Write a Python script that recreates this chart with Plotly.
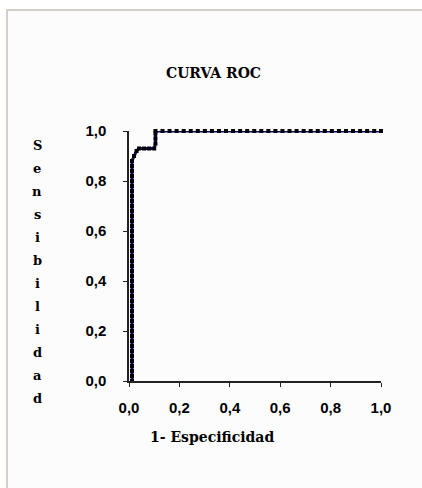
import plotly.graph_objects as go

# ---- data ----
fpr = [0.012]*45 + [0.02, 0.03, 0.04, 0.06, 0.08, 0.10,
       0.105, 0.105, 0.105, 0.105,
       0.133, 0.161, 0.189, 0.217, 0.245, 0.273, 0.301, 0.329, 0.357, 0.385,
       0.413, 0.441, 0.469, 0.497, 0.525, 0.553, 0.581, 0.609, 0.637, 0.665,
       0.693, 0.721, 0.749, 0.777, 0.805, 0.833, 0.861, 0.889, 0.917, 0.945,
       0.973, 1.000]
tpr = [0.00, 0.02, 0.04, 0.06, 0.08, 0.10, 0.12, 0.14, 0.16, 0.18,
       0.20, 0.22, 0.24, 0.26, 0.28, 0.30, 0.32, 0.34, 0.36, 0.38,
       0.40, 0.42, 0.44, 0.46, 0.48, 0.50, 0.52, 0.54, 0.56, 0.58,
       0.60, 0.62, 0.64, 0.66, 0.68, 0.70, 0.72, 0.74, 0.76, 0.78,
       0.80, 0.82, 0.84, 0.86, 0.88,
       0.90, 0.92, 0.93, 0.93, 0.93, 0.93,
       0.95, 0.97, 0.99, 1.00,
       1.0, 1.0, 1.0, 1.0, 1.0, 1.0, 1.0, 1.0, 1.0, 1.0,
       1.0, 1.0, 1.0, 1.0, 1.0, 1.0, 1.0, 1.0, 1.0, 1.0,
       1.0, 1.0, 1.0, 1.0, 1.0, 1.0, 1.0, 1.0, 1.0, 1.0,
       1.0, 1.0]
tick_vals = [0.0, 0.2, 0.4, 0.6, 0.8, 1.0]
tick_text = ["0,0", "0,2", "0,4", "0,6", "0,8", "1,0"]
title_text = "CURVA ROC"
x_title = "1- Especificidad"
y_title = "Sensibilidad"

W, H = 422, 488
L, R, T, B = 129, 41, 131, 107
PW, PH = W - L - R, H - T - B

def px(x):
    return (x - L) / PW

def py(y):
    return (H - B - y) / PH

fig = go.Figure()
fig.add_trace(go.Scatter(
    x=fpr, y=tpr, mode="lines+markers",
    line=dict(color="#0c0c6e", width=3),
    marker=dict(symbol="square", size=4, color="black"),
    cliponaxis=False, showlegend=False,
))

serif = "DejaVu Serif"
annots = [
    dict(text="<b>%s</b>" % title_text, x=px(213), y=py(73), xref="paper", yref="paper",
         xanchor="center", yanchor="middle", borderpad=0,
         showarrow=False, font=dict(family=serif, size=14, color="black")),
    dict(text="<b>%s</b>" % x_title, x=px(212), y=py(437), xref="paper", yref="paper",
         xanchor="center", yanchor="middle", borderpad=0,
         showarrow=False, font=dict(family=serif, size=14, color="black")),
]
for i, ch in enumerate(y_title):
    annots.append(dict(text="<b>%s</b>" % (ch.upper() if i == 0 else ch),
                       x=px(37), y=py(145 + i * 23.0), xref="paper", yref="paper",
                       xanchor="center", yanchor="middle", borderpad=0,
                       showarrow=False, font=dict(family=serif, size=13, color="black")))

tfont = dict(family="Liberation Sans", size=15, color="black", weight="bold")
fig.update_layout(
    width=W, height=H, margin=dict(l=L, r=R, t=T, b=B),
    paper_bgcolor="white", plot_bgcolor="rgba(0,0,0,0)",
    annotations=annots,
    shapes=[dict(type="rect", xref="paper", yref="paper", layer="below",
                 x0=px(7), x1=px(430), y0=py(10), y1=py(500),
                 fillcolor="#fcfcfc", line=dict(color="#d4d0c8", width=2))],
    xaxis=dict(range=[0, 1], tickvals=tick_vals, ticktext=tick_text,
               showgrid=False, zeroline=False, showline=True, linecolor="#222", linewidth=1.5,
               ticks="outside", ticklen=4, tickcolor="#222", ticklabelstandoff=8,
               tickfont=tfont),
    yaxis=dict(range=[0, 1], tickvals=tick_vals, ticktext=tick_text,
               showgrid=False, zeroline=False, showline=True, linecolor="#222", linewidth=1.5,
               ticks="outside", ticklen=4, tickcolor="#222", ticklabelstandoff=14,
               tickfont=tfont),
)

fig.write_html("out.html")
